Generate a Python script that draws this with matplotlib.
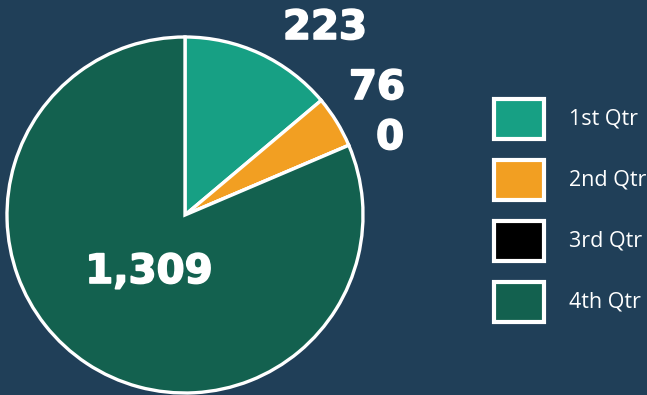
import matplotlib.pyplot as plt
import matplotlib.patheffects as pe
from matplotlib.patches import Rectangle

quarters = ["1st Qtr", "2nd Qtr", "3rd Qtr", "4th Qtr"]
sales = [223, 76, 0, 1309]
colors = ["#17A084", "#F29F22", "#000000", "#13614F"]
value_labels = ["223", "76", "0", "1,309"]

bg = "#203F58"
H = 395

fig = plt.figure(figsize=(6.47, 3.95), dpi=100, facecolor=bg)
ax = fig.add_axes([0, 0, 1, 1])
ax.set_facecolor(bg)

# pie, clockwise from 12 o'clock
ax.pie(
    sales,
    colors=colors,
    startangle=90,
    counterclock=False,
    center=(185, H - 215),
    radius=178,
    wedgeprops={"edgecolor": "white", "linewidth": 2.4},
    frame=True,
)
ax.set_xlim(0, 647)
ax.set_ylim(0, H)
ax.set_aspect("equal")
ax.axis("off")

# value labels (pixel positions, top-left origin)
label_pos = [(325, 28), (377, 88), (390, 138), (149, 272)]
for txt, (x, y) in zip(value_labels, label_pos):
    ax.text(x, H - y, txt, color="white", fontsize=29, fontweight="bold",
            ha="center", va="center", family="DejaVu Sans",
            path_effects=[pe.withStroke(linewidth=1.2, foreground="white")])

# legend boxes
for i, (name, c) in enumerate(zip(quarters, colors)):
    yc = 119 + i * 61
    ax.add_patch(Rectangle((494, H - yc - 20), 50, 40, facecolor=c,
                           edgecolor="white", linewidth=3, zorder=3))
    ax.text(569, H - yc, name, color="white", fontsize=15.5,
            ha="left", va="center", family="Open Sans")

fig.savefig("out.png", dpi=100, facecolor=bg)
